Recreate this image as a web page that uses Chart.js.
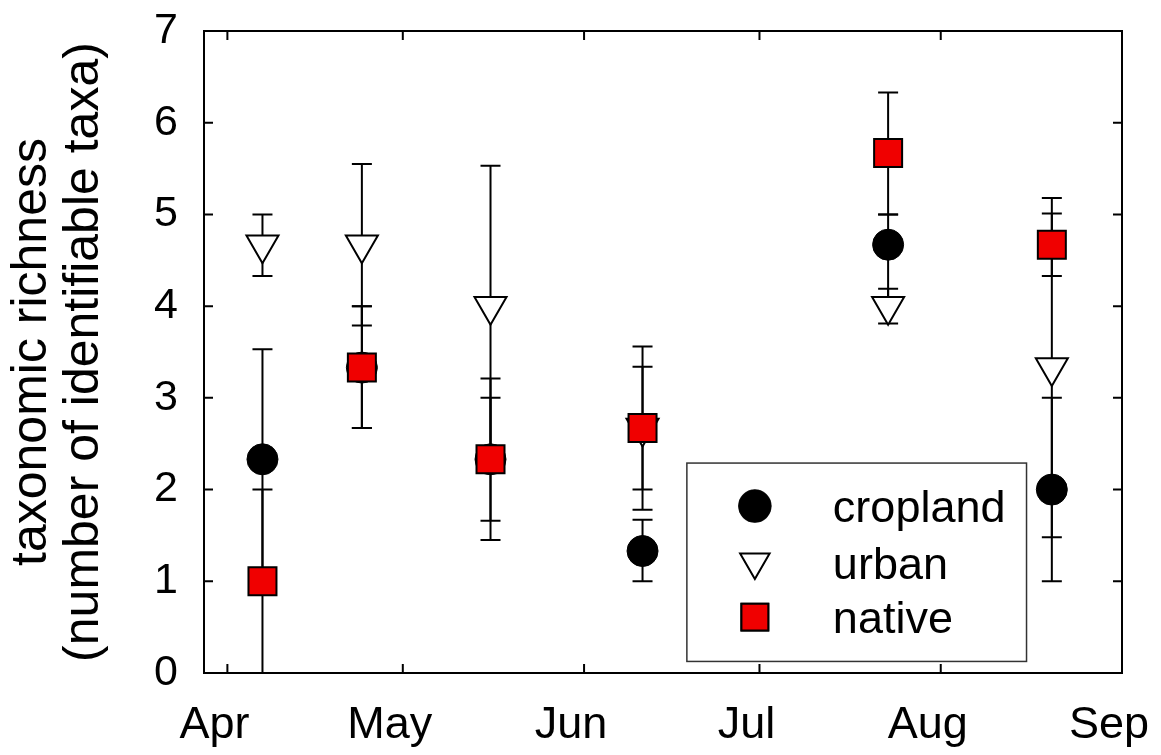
<!DOCTYPE html>
<html>
<head>
<meta charset="utf-8">
<script src="https://cdn.jsdelivr.net/npm/chart.js@4.4.0/dist/chart.umd.min.js"></script>
<style>
  html, body { margin: 0; padding: 0; background: #fff; }
</style>
</head>
<body>
<canvas id="richChart" width="1161" height="755"></canvas>
<script>
// sampling dates, as days after 1 April
const sampleDays = [6, 23, 45, 71, 113, 141];

// month ticks on the x axis (days after 1 April)
const monthDays = [0, 30, 61, 91, 122, 153];
const monthLabels = ['Apr', 'May', 'Jun', 'Jul', 'Aug', 'Sep'];

const yTicks = [0, 1, 2, 3, 4, 5, 6, 7];

// mean richness per land use + error bar ends
const croplandMean = [2.33, 3.33, 2.33, 1.33, 4.67, 2.0];
const croplandLow  = [1.13, 2.67, 1.45, 1.0, 4.0, 1.0];
const croplandHigh = [3.53, 4.0, 3.21, 1.67, 5.0, 3.0];

const urbanMean = [4.67, 4.67, 4.0, 2.67, 4.0, 3.33];
const urbanLow  = [4.33, 3.79, 2.47, 1.78, 3.81, 1.48];
const urbanHigh = [5.0, 5.55, 5.53, 3.56, 4.19, 5.18];

const nativeMean = [1.0, 3.33, 2.33, 2.67, 5.67, 4.67];
const nativeLow  = [0, 2.67, 1.66, 2.0, 5.0, 4.33];
const nativeHigh = [2.0, 4.0, 3.0, 3.34, 6.33, 5.01];

function points(mean, low, high) {
  return sampleDays.map((d, i) => ({ x: d, y: mean[i], low: low[i], high: high[i] }));
}

Chart.defaults.font.family = "'Liberation Sans', Arial, sans-serif";
Chart.defaults.color = '#000';

// error bars under the markers
const errorBars = {
  id: 'errorBars',
  beforeDatasetsDraw(chart) {
    const { ctx, chartArea: a, scales: { x, y } } = chart;
    ctx.save();
    ctx.beginPath();
    ctx.rect(a.left, a.top, a.right - a.left, a.bottom - a.top);
    ctx.clip();
    ctx.strokeStyle = '#000';
    ctx.lineWidth = 2;
    chart.data.datasets.forEach(ds => {
      ds.data.forEach(p => {
        const px = x.getPixelForValue(p.x);
        const lo = y.getPixelForValue(p.low);
        const hi = y.getPixelForValue(p.high);
        ctx.beginPath();
        ctx.moveTo(px, lo); ctx.lineTo(px, hi);
        ctx.moveTo(px - 10, lo); ctx.lineTo(px + 10, lo);
        ctx.moveTo(px - 10, hi); ctx.lineTo(px + 10, hi);
        ctx.stroke();
      });
    });
    ctx.restore();
  }
};

// box round the plot with inward ticks on all four sides
const frame = {
  id: 'frame',
  afterDraw(chart) {
    const { ctx, chartArea: a, scales: { x, y } } = chart;
    ctx.save();
    ctx.strokeStyle = '#000';
    ctx.lineWidth = 2;
    ctx.strokeRect(a.left, a.top, a.right - a.left, a.bottom - a.top);
    ctx.beginPath();
    monthDays.forEach(d => {
      const px = x.getPixelForValue(d);
      ctx.moveTo(px, a.bottom); ctx.lineTo(px, a.bottom - 9);
      ctx.moveTo(px, a.top); ctx.lineTo(px, a.top + 9);
    });
    yTicks.forEach(v => {
      const py = y.getPixelForValue(v);
      ctx.moveTo(a.left, py); ctx.lineTo(a.left + 9, py);
      ctx.moveTo(a.right, py); ctx.lineTo(a.right - 9, py);
    });
    ctx.stroke();
    ctx.restore();
  }
};

// legend box inside the plot, lower right
const boxLegend = {
  id: 'boxLegend',
  afterDraw(chart) {
    const { ctx, chartArea: a } = chart;
    const w = a.right - a.left, h = a.bottom - a.top;
    const bx = a.left + 0.526 * w, by = a.top + 0.673 * h;
    const bw = 0.370 * w, bh = 0.309 * h;
    ctx.save();
    ctx.fillStyle = '#fff';
    ctx.fillRect(bx, by, bw, bh);
    ctx.strokeStyle = '#333';
    ctx.lineWidth = 1.5;
    ctx.strokeRect(bx, by, bw, bh);
    const markY = [43, 99, 154];
    const textY = [59, 116, 170];
    const sizes = [16, 17, 19];
    chart.data.datasets.forEach((ds, i) => {
      Chart.helpers.drawPoint(ctx, {
        pointStyle: ds.pointStyle,
        radius: sizes[i],
        rotation: ds.rotation || 0,
        borderWidth: ds.borderWidth
      }, bx + 68, by + markY[i]);
      ctx.fillStyle = ds.backgroundColor;
      ctx.strokeStyle = '#000';
      ctx.lineWidth = ds.borderWidth;
      ctx.fill();
      ctx.stroke();
    });
    ctx.fillStyle = '#000';
    ctx.font = "45px 'Liberation Sans', Arial, sans-serif";
    ctx.textBaseline = 'alphabetic';
    ctx.textAlign = 'left';
    chart.data.datasets.forEach((ds, i) => {
      ctx.fillText(ds.label, bx + 146, by + textY[i]);
    });
    ctx.restore();
  }
};

new Chart(document.getElementById('richChart'), {
  type: 'scatter',
  data: {
    datasets: [
      {
        label: 'cropland',
        data: points(croplandMean, croplandLow, croplandHigh),
        pointStyle: 'circle',
        pointRadius: 15.5,
        backgroundColor: '#000',
        borderColor: '#000',
        borderWidth: 1,
        order: 2
      },
      {
        label: 'urban',
        data: points(urbanMean, urbanLow, urbanHigh),
        pointStyle: 'triangle',
        rotation: 180,
        pointRadius: 18.5,
        backgroundColor: '#fff',
        borderColor: '#000',
        borderWidth: 2,
        order: 1
      },
      {
        label: 'native',
        data: points(nativeMean, nativeLow, nativeHigh),
        pointStyle: 'rect',
        pointRadius: 19.8,
        backgroundColor: '#f00000',
        borderColor: '#000',
        borderWidth: 2,
        order: 0
      }
    ]
  },
  options: {
    responsive: false,
    animation: false,
    layout: { padding: { top: 31, right: 39, left: 0, bottom: 0 } },
    plugins: {
      legend: { display: false },
      tooltip: { enabled: false }
    },
    scales: {
      x: {
        type: 'linear',
        min: -4,
        max: 153,
        grid: { display: false },
        border: { display: false },
        afterBuildTicks: s => { s.ticks = monthDays.map(v => ({ value: v })); },
        afterFit: s => { s.height = 82; s.paddingLeft = 0; s.paddingRight = 0; },
        ticks: {
          autoSkip: false,
          maxRotation: 0,
          padding: 18,
          labelOffset: -13,
          font: { size: 45 },
          callback: v => monthLabels[monthDays.indexOf(v)]
        }
      },
      y: {
        min: 0,
        max: 7,
        grid: { display: false },
        border: { display: false },
        afterBuildTicks: s => { s.ticks = yTicks.map(v => ({ value: v })); },
        afterFit: s => { s.width = 204; s.paddingTop = 0; s.paddingBottom = 0; },
        ticks: {
          padding: 18,
          font: { size: 43 }
        },
        title: {
          display: true,
          text: ['taxonomic richness', '(number of identifiable taxa)'],
          font: { size: 50, lineHeight: 1.04 },
          padding: { top: 6, bottom: 0 }
        }
      }
    }
  },
  plugins: [errorBars, frame, boxLegend]
});
</script>
</body>
</html>
